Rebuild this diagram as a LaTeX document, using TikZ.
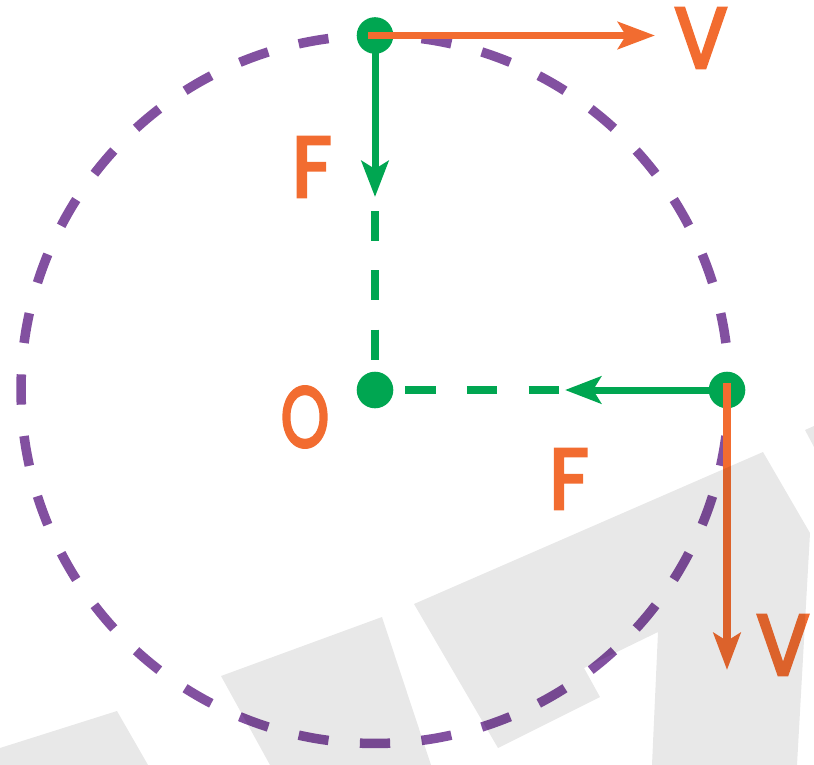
\documentclass[tikz,border=0pt]{standalone}
\usepackage{fontspec}
\setmainfont{Poppins}
\newfontfamily\lblfont{Poppins}[FakeBold=4]
\usetikzlibrary{arrows.meta}
\definecolor{purp}{RGB}{130,80,160}
\definecolor{grn}{RGB}{0,166,81}
\definecolor{org}{RGB}{242,108,48}
\definecolor{lgray}{RGB}{232,232,232}
\begin{document}
\begin{tikzpicture}[x=1pt,y=-1pt,
  dot/.style={circle,fill=grn,inner sep=0pt,minimum size=36.6pt},
  circdash/.style={draw=purp,line width=9.5pt},
  varrow/.style={draw=org,line width=7.5pt,-{Stealth[length=37pt,width=27pt,inset=8pt]}},
  farrow/.style={draw=grn,line width=7pt,-{Stealth[length=36pt,width=27pt,inset=8pt]}},
  fdash/.style={draw=grn,line width=8pt},
  lbl/.style={text=org,inner sep=0pt,font=\fontsize{85}{85}\lblfont},
  bgshape/.style={fill=lgray}]
\useasboundingbox (0,0) rectangle (814,765);
% dashed orbit
\coordinate (C) at (375,389.5);
\foreach \a in {0,10,...,350}
  \draw[circdash] (C) ++(\a-2.45:354) arc[start angle=\a-2.45, end angle=\a+2.45, radius=354];
% dots
\node[dot] (top) at (375,35.5) {};
\node[dot] (O) at (375,390) {};
\node[dot] (right) at (727,390) {};
% coordinates
\coordinate (vtopstart) at (368,35.5);
\coordinate (vtoptip) at (655,35.5);
\coordinate (vrstart) at (727,383);
\coordinate (vrtip) at (727,670);
\coordinate (ftoptip) at (375,197);
\coordinate (frtip) at (565,390);
\coordinate (vd1) at (375,211);
\coordinate (vd2) at (375,360);
\coordinate (hd1) at (405,390);
\coordinate (hd2) at (559,390);
% force arrows
\draw[farrow] (top.center) -- (ftoptip);
\draw[farrow] (right.center) -- (frtip);
\draw[fdash,dash pattern=on 30pt off 29.3pt] (vd1) -- (vd2);
\draw[fdash,dash pattern=on 30.5pt off 31.3pt] (hd1) -- (hd2);
% velocity arrows
\draw[varrow] (vtopstart) -- (vtoptip);
\draw[varrow] (vrstart) -- (vrtip);
% labels
\node[lbl,xscale=0.92] (Vt) at (701,38) {V};
\node[lbl,xscale=0.92] (Ft) at (312,167) {F};
\node[lbl,xscale=0.72] (Ol) at (305,417) {O};
\node[lbl,xscale=0.92] (Fr) at (569,479) {F};
\node[lbl,xscale=0.92] (Vr) at (783,645) {V};
% background shapes
\begin{scope}[blend mode=multiply]
\fill[bgshape] (0,748) -- (117,711) -- (148,765) -- (0,765) -- cycle;
\fill[bgshape] (221,676) -- (382,617) -- (431,765) -- (270,765) -- cycle;
\fill[bgshape] (414,604) -- (763,452) -- (810,533) -- (797,765) -- (652,765) -- (658,632) -- (584,668) -- (600,697) -- (498,748) -- cycle;
\fill[bgshape] (805,430) -- (814,426) -- (814,447) -- cycle;
\end{scope}
\end{tikzpicture}
\end{document}
